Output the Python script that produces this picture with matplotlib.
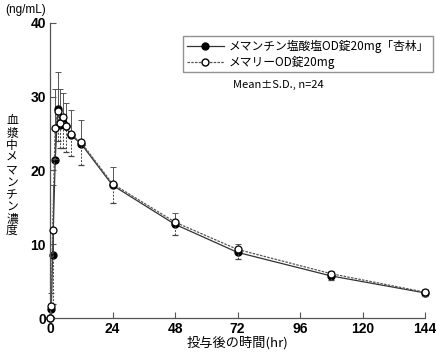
import matplotlib
matplotlib.use("Agg")
import matplotlib.pyplot as plt
from matplotlib.lines import Line2D
import numpy as np

plt.rcParams['font.family'] = ['Noto Sans CJK JP', 'DejaVu Sans']

# sampling times (hr)
hours = [0, 0.5, 1, 2, 3, 4, 5, 6, 8, 12, 24, 48, 72, 108, 144]

# メマンチン塩酸塩OD錠20mg「杏林」
kyorin_mean = [0, 1.2, 8.6, 21.4, 28.4, 26.2, 26.5, 26.0, 24.8, 23.6, 18.0, 12.7, 8.9, 5.7, 3.4]
kyorin_sd = [0, 2.2, 9.5, 9.6, 5.0, 4.8, 4.0, 3.2, 3.4, 3.2, 2.5, 1.5, 1.2, 0.7, 0.5]

# メマリーOD錠20mg
memary_mean = [0, 1.6, 11.9, 25.8, 28.0, 26.5, 27.2, 26.1, 24.9, 23.8, 18.2, 13.0, 9.3, 6.0, 3.5]
memary_sd = [0, 1.5, 10.0, 4.2, 4.0, 3.4, 4.2, 3.6, 3.0, 3.0, 2.6, 1.7, 1.3, 0.8, 0.5]

legend_labels = ["メマンチン塩酸塩OD錠20mg「杏林」", "メマリーOD錠20mg"]
ylabel_text = "血漿中メマンチン濃度"
xticks = [0, 24, 48, 72, 96, 120, 144]
yticks = [0, 10, 20, 30, 40]

fig = plt.figure(figsize=(4.36, 3.54), dpi=100)
ax = fig.add_axes([50 / 436, 36 / 354, 375 / 436, 295 / 354])

zeros = np.zeros(len(hours))

# reference product: lower SD, dashed
eb2 = ax.errorbar(hours, memary_mean, yerr=[memary_sd, zeros], color='#555555',
                  linestyle=(0, (2, 1)), linewidth=0.9, marker='o', markersize=5,
                  markerfacecolor='white', markeredgecolor='black', markeredgewidth=0.9,
                  ecolor='#444444', elinewidth=0.7, capsize=2.5, capthick=0.7,
                  clip_on=False, zorder=3)
for ln in eb2[2]:
    ln.set_linestyle((0, (2, 1.5)))

# test product: upper SD, solid
eb1 = ax.errorbar(hours, kyorin_mean, yerr=[zeros, kyorin_sd], color='#333333',
                  linestyle='-', linewidth=0.9, marker='o', markersize=5,
                  markerfacecolor='black', markeredgecolor='black',
                  ecolor='#555555', elinewidth=0.7, capsize=2.5, capthick=0.7,
                  clip_on=False, zorder=2)

ax.set_xlim(0, 144)
ax.set_ylim(0, 40)
ax.set_xticks(xticks)
ax.set_yticks(yticks)
ax.tick_params(direction='in', length=4, width=0.8, color='#555555', labelsize=10, pad=3)
for lab in ax.get_xticklabels() + ax.get_yticklabels():
    lab.set_fontweight('bold')
    lab.set_family(['Liberation Sans', 'DejaVu Sans'])
ax.spines['top'].set_visible(False)
ax.spines['right'].set_visible(False)
for s in ['left', 'bottom']:
    ax.spines[s].set_color('#555555')
    ax.spines[s].set_linewidth(0.9)

ax.set_xlabel("投与後の時間(hr)", fontsize=9.5, labelpad=0)

fig.text(5 / 436, 1 - 10 / 354, "(ng/mL)", fontsize=8.5, va='center', ha='left',
         family=['Liberation Sans', 'DejaVu Sans'])

# vertical y label, one character per row
for i, ch in enumerate(ylabel_text):
    fig.text(12 / 436, 1 - (121 + i * 12.2) / 354, ch, fontsize=8.5,
             va='center', ha='center')

handles = [
    Line2D([], [], color='#333333', linestyle='-', linewidth=0.9, marker='o',
           markersize=5, markerfacecolor='black', markeredgecolor='black'),
    Line2D([], [], color='#555555', linestyle=(0, (2, 1)), linewidth=0.9, marker='o',
           markersize=5, markerfacecolor='white', markeredgecolor='black'),
]
leg = ax.legend(handles=handles, labels=legend_labels, loc='upper left',
                bbox_to_anchor=(183 / 436, 1 - 36 / 354),
                bbox_transform=fig.transFigure, fontsize=8.5, frameon=True, fancybox=False,
                handlelength=3.2, handletextpad=0.4, borderpad=0.3, labelspacing=0.25,
                borderaxespad=0)
leg.get_frame().set_edgecolor('#777777')
leg.get_frame().set_linewidth(1.0)

fig.text(233 / 436, 1 - 85 / 354, "Mean±S.D., n=24", fontsize=8, va='center', ha='left')

fig.savefig("out.png", dpi=100)
